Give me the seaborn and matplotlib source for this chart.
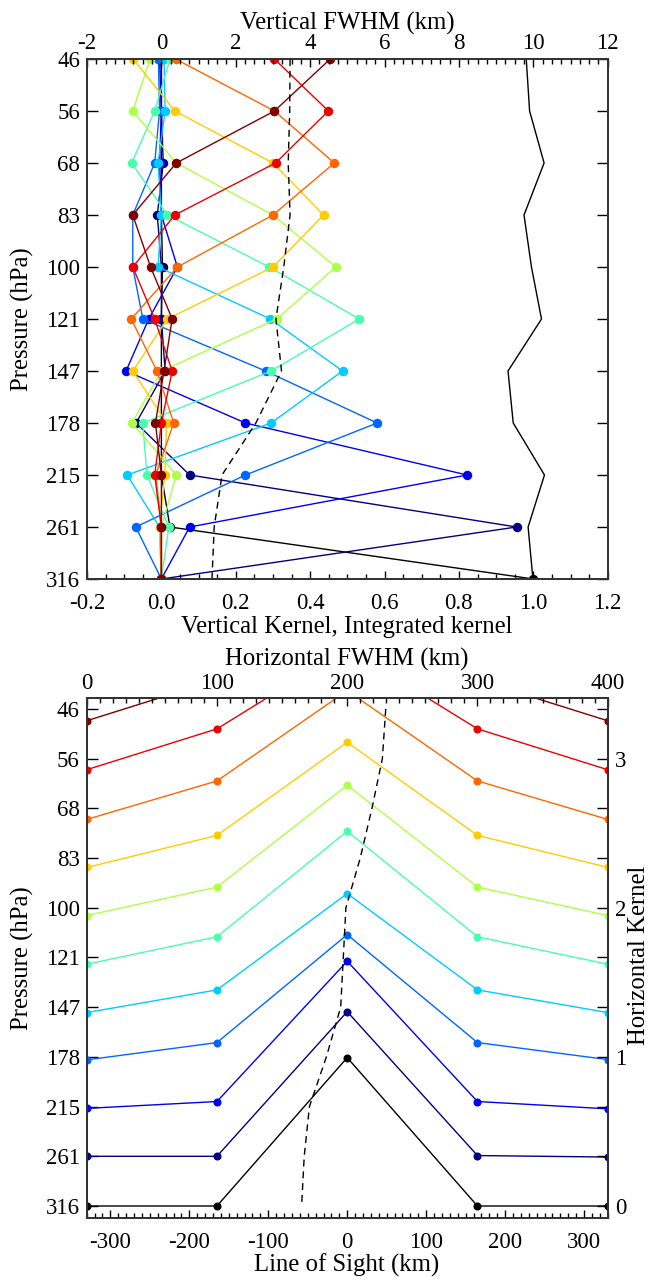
import numpy as np
import pandas as pd
import matplotlib
matplotlib.use("Agg")
import matplotlib.pyplot as plt
import seaborn as sns
from matplotlib.ticker import MultipleLocator

sns.set_theme(style="ticks", rc={"xtick.direction": "in", "ytick.direction": "in"})
plt.rcParams['font.family'] = ['Liberation Serif', 'DejaVu Serif']
plt.rcParams['text.color'] = 'black'
plt.rcParams['xtick.color'] = 'black'
plt.rcParams['ytick.color'] = 'black'
plt.rcParams['axes.unicode_minus'] = False

# ---------------- data ----------------
pressure_labels = ["46", "56", "68", "83", "100", "121", "147", "178", "215", "261", "316"]

kernel_colors = ["#800000", "#EE0000", "#FF6600", "#FFCC00", "#AEFF48", "#48FFAE",
                 "#00CCFF", "#0066FF", "#0000EE", "#000080", "#000000"]

# vertical averaging kernels (value at each level 46..316), one per level
vk_46 = [0.454, 0.304, 0.040, -0.077, -0.029, 0.029, 0.007, -0.016, 0.000, 0.000, 0.0]
vk_56 = [0.304, 0.449, 0.307, 0.036, -0.077, -0.018, 0.029, 0.000, -0.018, 0.000, 0.0]
vk_68 = [0.038, 0.304, 0.465, 0.300, 0.043, -0.081, -0.012, 0.033, -0.015, 0.000, 0.0]
vk_83 = [-0.076, 0.036, 0.300, 0.436, 0.300, 0.016, -0.077, 0.014, 0.009, -0.005, 0.0]
vk_100 = [-0.030, -0.077, 0.040, 0.300, 0.469, 0.310, 0.000, -0.079, 0.040, 0.000, 0.0]
vk_121 = [0.023, -0.018, -0.080, 0.016, 0.290, 0.532, 0.295, -0.050, -0.039, 0.020, 0.0]
vk_147 = [0.007, 0.010, -0.009, 0.000, -0.009, 0.293, 0.487, 0.295, -0.092, -0.005, 0.0]
vk_178 = [-0.008, -0.005, -0.018, -0.077, -0.077, -0.050, 0.280, 0.580, 0.226, -0.069, 0.0]
vk_215 = [-0.005, 0.000, -0.005, 0.000, 0.043, -0.034, -0.095, 0.226, 0.822, 0.076, 0.0]
vk_261 = [0.000, 0.000, 0.005, -0.011, 0.000, 0.000, 0.010, -0.068, 0.076, 0.955, 0.0]
vk_316 = [0.000, 0.000, 0.000, 0.000, 0.003, 0.000, 0.000, 0.000, 0.000, 0.023, 1.0]

integrated_kernel = [0.981, 0.990, 1.029, 0.975, 0.995, 1.022, 0.932, 0.946, 1.030, 0.986, 0.999]
vertical_fwhm_km = [3.46, 3.45, 3.41, 3.46, 3.29, 3.08, 3.23, 2.54, 1.63, 1.42, 1.36]

# horizontal kernels along line of sight
los_km = [-330, -165, 0, 165, 330]
hk_46 = [-0.079, 0.195, 0.720, 0.195, -0.079]
hk_56 = [-0.074, 0.200, 0.740, 0.200, -0.074]
hk_68 = [-0.074, 0.184, 0.790, 0.184, -0.074]
hk_83 = [-0.063, 0.152, 0.777, 0.152, -0.062]
hk_100 = [-0.052, 0.139, 0.822, 0.139, -0.052]
hk_121 = [-0.045, 0.139, 0.847, 0.139, -0.045]
hk_147 = [-0.036, 0.116, 0.762, 0.116, -0.036]
hk_178 = [-0.020, 0.096, 0.820, 0.096, -0.018]
hk_215 = [-0.012, 0.034, 0.975, 0.034, -0.015]
hk_261 = [0.000, 0.000, 0.970, 0.005, -0.005]
hk_316 = [0.000, 0.000, 0.995, 0.000, 0.000]

horizontal_fwhm_km = [229.6, 227.0, 219.0, 210.0, 199.0, 197.0, 195.0, 184.0, 171.0, 167.0, 165.0]

vk = dict(zip(pressure_labels, [vk_46, vk_56, vk_68, vk_83, vk_100, vk_121, vk_147,
                                vk_178, vk_215, vk_261, vk_316]))
hk = dict(zip(pressure_labels, [hk_46, hk_56, hk_68, hk_83, hk_100, hk_121, hk_147,
                                hk_178, hk_215, hk_261, hk_316]))
palette = dict(zip(pressure_labels, kernel_colors))
draw_order = pressure_labels[::-1]
n = len(pressure_labels)
level_idx = np.arange(n)

rows = []
for k in pressure_labels:
    for i, v in enumerate(vk[k]):
        rows.append({"kernel": k, "level": i, "value": v})
df_v = pd.DataFrame(rows)

# bottom panel: each kernel offset to its own level (1 unit of kernel = 3 levels)
base = {lab: (n - 1 - i) / 3 for i, lab in enumerate(pressure_labels)}
rows = []
for k in pressure_labels:
    for x, v in zip(los_km, hk[k]):
        rows.append({"kernel": k, "los": x, "y": base[k] + v})
df_h = pd.DataFrame(rows)
level_base = np.array([base[l] for l in pressure_labels])

# ---------------- figure ----------------
W, H = 648, 1277
fig = plt.figure(figsize=(W / 100, H / 100), dpi=100)

def frac(x0, y0, x1, y1):
    return [x0 / W, 1 - y1 / H, (x1 - x0) / W, (y1 - y0) / H]

ax1 = fig.add_axes(frac(87, 59, 607.7, 579))
ax2 = fig.add_axes(frac(86.7, 697.7, 607.7, 1218.3))

TICK_FS = 16.5
LAB_FS = 17.8
line_kw = dict(linewidth=1.0)
dash = (0, (5, 3.5))

# ---- top panel ----
sns.lineplot(data=df_v, x="value", y="level", hue="kernel", hue_order=draw_order,
             palette=palette, estimator=None, sort=False, orient="y",
             marker="o", markersize=6.8, markeredgewidth=0, legend=False,
             ax=ax1, **line_kw)
sns.lineplot(x=integrated_kernel, y=level_idx, color="black", estimator=None,
             sort=False, orient="y", ax=ax1, **line_kw)
ax1T = ax1.twiny()
sns.lineplot(x=vertical_fwhm_km, y=level_idx, color="black", estimator=None,
             sort=False, orient="y", ax=ax1T, linestyle=dash, **line_kw)

ax1.set_xlim(-0.2, 1.2)
ax1.set_ylim(n - 1, 0)
ax1T.set_xlim(-2, 12)
xt = np.arange(-0.2, 1.21, 0.2)
ax1.set_xticks(xt)
ax1.set_xticklabels([f"{v:.1f}".replace("-0.0", "0.0") for v in xt])
ax1.xaxis.set_minor_locator(MultipleLocator(0.05))
ax1T.xaxis.set_major_locator(MultipleLocator(2))
ax1T.xaxis.set_minor_locator(MultipleLocator(0.25))
ax1.set_yticks(level_idx)
ax1.set_yticklabels(pressure_labels)
ax1.tick_params(axis="x", which="major", length=6, width=1, labelsize=TICK_FS, pad=10, bottom=True, top=False)
ax1.tick_params(axis="x", which="minor", length=3.5, width=1, bottom=True, top=False)
ax1.tick_params(axis="y", which="major", length=8, width=1, labelsize=TICK_FS, pad=5,
                left=True, right=True, labelright=False)
ax1T.tick_params(axis="x", which="major", length=6, width=1, labelsize=TICK_FS, pad=3.6, top=True)
ax1T.tick_params(axis="x", which="minor", length=3.5, width=1, top=True)
for a in (ax1, ax1T):
    a.set_xlabel("")
    a.set_ylabel("")

# ---- bottom panel ----
sns.lineplot(data=df_h, x="los", y="y", hue="kernel", hue_order=draw_order,
             palette=palette, estimator=None, sort=False,
             marker="o", markersize=5.8, markeredgewidth=0, legend=False,
             ax=ax2, **line_kw)
ax2T = ax2.twiny()
sns.lineplot(x=horizontal_fwhm_km, y=level_base, color="black", estimator=None,
             sort=False, orient="y", ax=ax2T, linestyle=dash, **line_kw)
ax2R = ax2.twinx()

ylim2 = (-0.0825, 3.409)
ax2.set_xlim(-330, 330)
ax2.set_ylim(*ylim2)
ax2T.set_xlim(0, 400)
ax2T.set_ylim(*ylim2)
ax2R.set_ylim(*ylim2)
ax2.xaxis.set_major_locator(MultipleLocator(100))
ax2.xaxis.set_minor_locator(MultipleLocator(10))
ax2T.xaxis.set_major_locator(MultipleLocator(100))
ax2T.xaxis.set_minor_locator(MultipleLocator(10))
ax2.set_yticks(level_base)
ax2.set_yticklabels(pressure_labels)
ax2R.set_yticks(level_base)
ax2R.set_yticklabels([f"{v:.0f}" if abs(v - round(v)) < 1e-6 else "" for v in level_base])
ax2.tick_params(axis="x", which="major", length=6, width=1, labelsize=TICK_FS, pad=10, bottom=True, top=False)
ax2.tick_params(axis="x", which="minor", length=3.5, width=1, bottom=True, top=False)
ax2.tick_params(axis="y", which="major", length=8, width=1, labelsize=TICK_FS, pad=5, left=True, right=False)
ax2T.tick_params(axis="x", which="major", length=6, width=1, labelsize=TICK_FS, pad=3.0, top=True)
ax2T.tick_params(axis="x", which="minor", length=3.5, width=1, top=True)
ax2R.tick_params(axis="y", which="major", length=8, width=1, labelsize=TICK_FS, pad=5.5, right=True)
for a in (ax2, ax2T, ax2R):
    a.set_xlabel("")
    a.set_ylabel("")

for a in (ax1, ax1T, ax2, ax2T, ax2R):
    for s in a.spines.values():
        s.set_visible(True)
        s.set_linewidth(1.3)
        s.set_color("#333333")

# ---- axis titles (positions in pixels, baseline anchored) ----
def ptxt(x, y, s, rot=0):
    fig.text(x / W, 1 - y / H, s, ha="center", va="baseline", fontsize=LAB_FS,
             rotation=rot, rotation_mode="anchor")

ptxt(347, 30, "Vertical FWHM (km)")
ptxt(347, 633, "Vertical Kernel, Integrated kernel")
ptxt(29, 319, "Pressure (hPa)", rot=90)
ptxt(347, 666, "Horizontal FWHM (km)")
ptxt(347, 1272, "Line of Sight (km)")
ptxt(29, 958, "Pressure (hPa)", rot=90)
ptxt(645, 955, "Horizontal Kernel", rot=90)

fig.savefig("out.png", dpi=100)
